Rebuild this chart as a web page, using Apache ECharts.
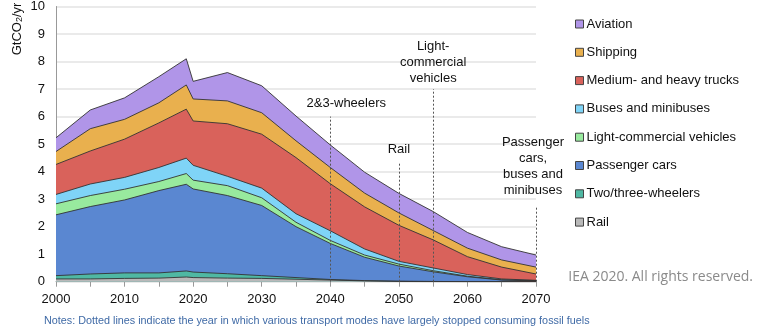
<!DOCTYPE html>
<html>
<head>
<meta charset="utf-8">
<script src="https://cdn.jsdelivr.net/npm/echarts@6/dist/echarts.min.js"></script>
<style>
  html, body { margin: 0; padding: 0; background: #fff; }
  #chart { width: 760px; height: 334px; }
</style>
</head>
<body>
<div id="chart"></div>
<script>
// Transport CO2 emissions by mode, GtCO2/yr
const years = [2000, 2005, 2010, 2015, 2019, 2020, 2025, 2030, 2035, 2040, 2045, 2050, 2055, 2060, 2065, 2070];

const rail         = [0.10, 0.10, 0.12, 0.13, 0.17, 0.15, 0.13, 0.12, 0.09, 0.06, 0.03, 0.01, 0.00, 0.00, 0.00, 0.00];
const twoThree     = [0.12, 0.18, 0.20, 0.19, 0.22, 0.20, 0.16, 0.10, 0.06, 0.02, 0.01, 0.01, 0.01, 0.00, 0.00, 0.00];
const passenger    = [2.21, 2.45, 2.65, 2.99, 3.15, 3.02, 2.84, 2.55, 1.85, 1.31, 0.85, 0.55, 0.35, 0.18, 0.06, 0.03];
const lightComm    = [0.40, 0.40, 0.39, 0.33, 0.39, 0.32, 0.36, 0.28, 0.16, 0.11, 0.08, 0.07, 0.04, 0.02, 0.01, 0.01];
const buses        = [0.34, 0.42, 0.43, 0.51, 0.56, 0.54, 0.34, 0.35, 0.31, 0.35, 0.22, 0.10, 0.10, 0.06, 0.03, 0.01];
const trucks       = [1.09, 1.20, 1.39, 1.62, 1.78, 1.61, 1.91, 1.96, 2.04, 1.71, 1.53, 1.31, 1.02, 0.65, 0.43, 0.23];
const shipping     = [0.47, 0.81, 0.72, 0.73, 0.88, 0.80, 0.83, 0.78, 0.61, 0.59, 0.50, 0.45, 0.34, 0.31, 0.26, 0.25];
const aviation     = [0.50, 0.68, 0.78, 0.95, 0.95, 0.64, 1.03, 0.98, 0.90, 0.82, 0.76, 0.71, 0.69, 0.57, 0.48, 0.44];

// bottom-to-top stacking order
const seriesNames = ['Rail', 'Two/three-wheelers', 'Passenger cars', 'Light-commercial vehicles',
                     'Buses and minibuses', 'Medium- and heavy trucks', 'Shipping', 'Aviation'];
const seriesValues = [rail, twoThree, passenger, lightComm, buses, trucks, shipping, aviation];
const seriesColors = ['#b9b9b9', '#4fb8a3', '#5a87d1', '#98ea9e', '#7fd4f7', '#d9625b', '#e9b04e', '#b095e8'];

// Years in which modes largely stop consuming fossil fuels
const milestoneYears  = [2040, 2050, 2055, 2070];
const milestoneTops   = [6.0, 4.3, 7.0, 2.7];
const milestoneLabels = ['2&3-wheelers', 'Rail', 'Light-\ncommercial\nvehicles', 'Passenger\ncars,\nbuses and\nminibuses'];
// label placement relative to each dotted line's top: [dx, gap above]
const milestoneLabelShift = [[16, 5], [0, 6], [0, 3], [-3, 9]];

const xTickStep = 5;
const xLabelStep = 10;

const chart = echarts.init(document.getElementById('chart'), null, { renderer: 'canvas' });

// Running totals: each layer is filled down to the axis, upper layers drawn first
const cumulative = [];
seriesValues.forEach((vals, i) => {
  cumulative.push(vals.map((v, k) => (i === 0 ? 0 : cumulative[i - 1][k]) + v));
});

const series = [];
for (let i = seriesNames.length - 1; i >= 0; i--) {
  series.push({
    name: seriesNames[i],
    type: 'line',
    symbol: 'none',
    data: years.map((y, k) => [y, +cumulative[i][k].toFixed(3)]),
    lineStyle: { color: '#333', width: 0.9 },
    itemStyle: { color: seriesColors[i], borderColor: '#333', borderWidth: 1 },
    areaStyle: { color: seriesColors[i], opacity: 1 },
    emphasis: { disabled: true },
    z: 2
  });
}

// dotted milestone lines, drawn above the areas
series.push({
  name: 'milestones',
  type: 'line',
  data: [],
  z: 5,
  markLine: {
    silent: true,
    symbol: 'none',
    label: { show: false },
    lineStyle: { color: '#555', type: [2, 2], width: 1 },
    data: milestoneYears.map((y, i) => [{ coord: [y, 0] }, { coord: [y, milestoneTops[i]] }])
  }
});

chart.setOption({
  animation: false,
  backgroundColor: '#fff',
  grid: { left: 56, right: 224, top: 4.5, bottom: 52.3 },
  xAxis: {
    type: 'value',
    min: 2000,
    max: 2070,
    interval: xTickStep,
    axisLine: { lineStyle: { color: '#999', width: 1 } },
    axisTick: { show: true, length: 5, lineStyle: { color: '#999' } },
    splitLine: { show: false },
    axisLabel: {
      color: '#111',
      fontSize: 13,
      fontFamily: 'Liberation Sans, Arial, sans-serif',
      margin: 11,
      formatter: v => (v % xLabelStep === 0 ? String(v) : '')
    }
  },
  yAxis: {
    type: 'value',
    min: 0,
    max: 10,
    interval: 1,
    axisLine: { show: true, lineStyle: { color: '#999' } },
    axisTick: { show: false },
    splitLine: { lineStyle: { color: '#e3e3e3', width: 1.5 } },
    axisLabel: {
      color: '#111',
      fontSize: 13,
      fontFamily: 'Liberation Sans, Arial, sans-serif',
      margin: 11
    }
  },
  legend: {
    orient: 'vertical',
    left: 570,
    top: 12,
    itemWidth: 8,
    itemHeight: 8,
    itemGap: 14.3,
    icon: 'rect',
    selectedMode: false,
    data: seriesNames.slice().reverse(),
    itemStyle: { borderColor: '#444', borderWidth: 1 },
    textStyle: {
      color: '#111',
      fontSize: 13,
      fontFamily: 'Liberation Sans, Arial, sans-serif',
      padding: [0, 0, 0, -2],
      lineHeight: 14
    }
  },
  series: series
});

// Texts placed from the chart's own coordinate system
const graphics = milestoneYears.map((y, i) => {
  const p = chart.convertToPixel({ gridIndex: 0 }, [y, milestoneTops[i]]);
  return {
    type: 'text',
    x: p[0] + milestoneLabelShift[i][0],
    y: p[1] - milestoneLabelShift[i][1],
    z: 10,
    style: {
      text: milestoneLabels[i],
      fill: '#111',
      font: '13px "Liberation Sans", Arial, sans-serif',
      lineHeight: 16,
      align: 'center',
      verticalAlign: 'bottom'
    }
  };
});

graphics.push({
  type: 'text',
  x: 17,
  y: 29,
  rotation: Math.PI / 2,
  z: 10,
  style: {
    text: '{a|GtCO}{s|2}{a|/yr}',
    align: 'center',
    verticalAlign: 'middle',
    rich: {
      a: { fill: '#111', font: '13px "Liberation Sans", Arial, sans-serif' },
      s: { fill: '#111', font: '9px "Liberation Sans", Arial, sans-serif', padding: [6, 0, 0, 0] }
    }
  }
});

graphics.push({
  type: 'text',
  x: 753,
  y: 277,
  z: 10,
  style: {
    text: 'IEA 2020. All rights reserved.',
    fill: '#8a8a8a',
    font: '14px "Open Sans", Lato, sans-serif',
    align: 'right',
    verticalAlign: 'middle'
  }
});

graphics.push({
  type: 'text',
  x: 44,
  y: 321,
  z: 10,
  style: {
    text: 'Notes: Dotted lines indicate the year in which various transport modes have largely stopped consuming fossil fuels',
    fill: '#3f6aa6',
    font: '10.8px "Liberation Sans", Arial, sans-serif',
    align: 'left',
    verticalAlign: 'middle'
  }
});

chart.setOption({ graphic: graphics });
</script>
</body>
</html>
